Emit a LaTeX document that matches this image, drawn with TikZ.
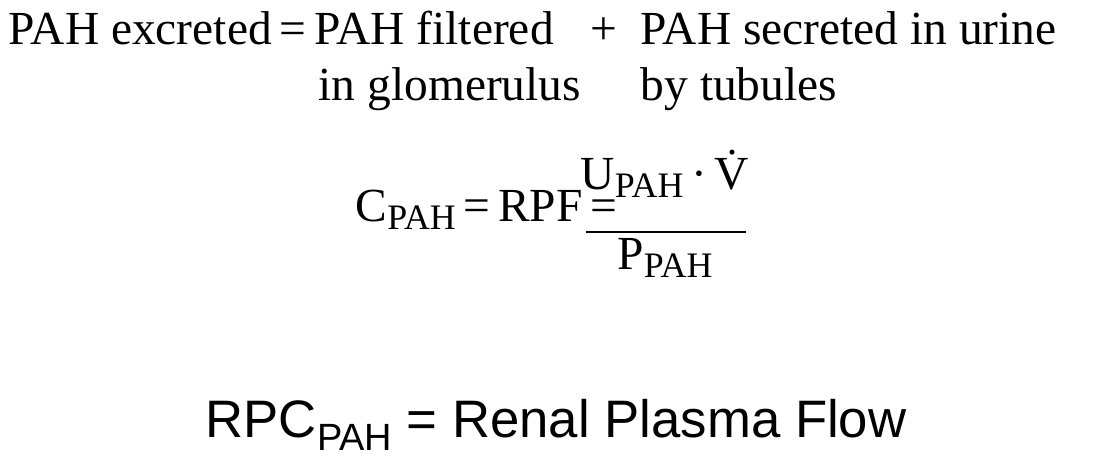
\documentclass[tikz,border=0pt]{standalone}
\usepackage{fontspec}
\setmainfont{Liberation Serif}
\newfontfamily\arialf{Liberation Sans}
\newcommand{\mysub}[1]{\raisebox{-0.35ex}{\fontsize{10.2}{11}\selectfont #1}}
\begin{document}
\begin{tikzpicture}[x=1cm,y=1cm,
  txt/.style={inner sep=0pt,anchor=base west,font=\fontsize{13.5}{15}\selectfont},
  big/.style={inner sep=0pt,anchor=base west,font=\arialf\fontsize{15}{17}\selectfont}]
\useasboundingbox (0,0) rectangle (11.1,4.7);
\node[txt] (l1) at (0.08,4.25) {PAH excreted\,=\,PAH filtered};
\node[txt] (plus) at (5.9,4.25) {+};
\node[txt] (r1) at (6.4,4.25) {PAH secreted in urine};
\node[txt] (l2) at (3.18,3.70) {in glomerulus};
\node[txt] (r2) at (6.4,3.70) {by tubules};
\node[txt] (c) at (3.55,2.48) {C\mysub{PAH}\,=\,RPF\,=};
\node[txt,anchor=base] (num) at (6.65,2.80) {U\mysub{PAH}\,·\,\.{V}};
\node[txt,anchor=base] (den) at (6.65,2.00) {P\mysub{PAH}};
\draw[line width=0.6pt] (5.86,2.38) -- (7.46,2.38);
\node[big] (rpc) at (2.05,0.32) {RPC\raisebox{-0.45ex}{\fontsize{10.8}{11}\selectfont PAH} = Renal Plasma Flow};
\end{tikzpicture}
\end{document}
